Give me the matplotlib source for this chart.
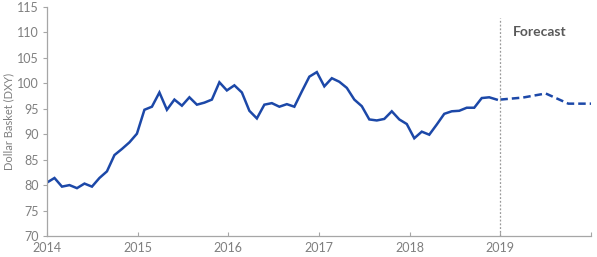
import numpy as np
import matplotlib
matplotlib.use("Agg")
import matplotlib.pyplot as plt

# Monthly DXY history, Jan 2014 .. Jan 2019
history = [80.5, 81.4, 79.7, 80.0, 79.4, 80.3, 79.7, 81.4, 82.7, 85.9, 87.1, 88.4,
           90.1, 94.8, 95.4, 98.2, 94.8, 96.8, 95.6, 97.25, 95.8, 96.2, 96.8, 100.2,
           98.6, 99.6, 98.2, 94.6, 93.1, 95.8, 96.1, 95.4, 95.9, 95.4, 98.4, 101.3,
           102.2, 99.4, 101.0, 100.3, 99.1, 96.8, 95.5, 92.9, 92.7, 93.0, 94.5, 92.9,
           92.0, 89.2, 90.5, 89.9, 91.9, 94.0, 94.5, 94.6, 95.2, 95.2, 97.1, 97.25,
           96.8]
hist_start = 2014.0
hist_step = 4.96 / 60  # roughly monthly

# Quarterly forecast, 2019
forecast_x = [2019.0, 2019.25, 2019.5, 2019.75, 2020.0]
forecast = [96.8, 97.2, 98.0, 96.0, 96.0]

year_ticks = [2014, 2015, 2016, 2017, 2018, 2019, 2020]
year_labels = ["2014", "2015", "2016", "2017", "2018", "2019", ""]
y_ticks = list(range(70, 116, 5))

plt.rcParams['font.family'] = ['Lato', 'DejaVu Sans']

fig = plt.figure(figsize=(5.97, 2.57), dpi=100)
ax = fig.add_axes([0.0787, 0.0817, 0.9113, 0.8913])

line_color = "#1c48a8"
hx = hist_start + np.arange(len(history)) * hist_step
ax.plot(hx, history, color=line_color, lw=1.8, solid_joinstyle='miter')
ax.plot(forecast_x, forecast, color=line_color, lw=1.8, ls=(0, (3, 1.6)))

ax.axvline(2019.0, ymin=0, ymax=0.95, color="#9a9a9a", lw=0.9, ls=(0, (1.5, 1.5)))
ax.text(2019.43, 110.0, "Forecast", color="#595959", fontsize=10, fontweight='bold',
        ha='center', va='center')

ax.set_xlim(2014, 2020)
ax.set_ylim(70, 115)
ax.set_xticks(year_ticks)
ax.set_xticklabels(year_labels)
ax.set_yticks(y_ticks)

for s in ["top", "right"]:
    ax.spines[s].set_visible(False)
for s in ["left", "bottom"]:
    ax.spines[s].set_color("#a6a6a6")
    ax.spines[s].set_linewidth(0.9)

ax.tick_params(axis='x', direction='in', length=3, color="#a6a6a6", labelsize=9,
               labelcolor="#7f7f7f", pad=4)
ax.tick_params(axis='y', direction='out', length=3, color="#a6a6a6", labelsize=9,
               labelcolor="#7f7f7f", pad=3)
ax.set_ylabel("Dollar Basket (DXY)", color="#7f7f7f", fontsize=8, labelpad=2)

fig.savefig("out.png", dpi=100)
